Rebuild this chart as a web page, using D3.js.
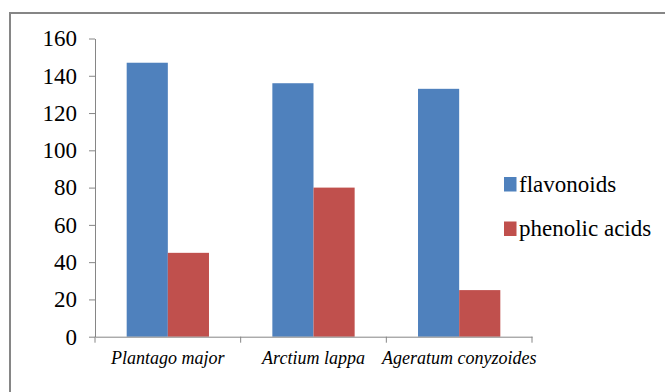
<!DOCTYPE html>
<html><head><meta charset="utf-8">
<script src="https://cdn.jsdelivr.net/npm/d3@7"></script>
<style>
body{margin:0;background:#fff;}
#chart text{font-family:"Liberation Serif","Tinos","Times New Roman",serif;}
</style>
</head><body>
<svg id="chart" width="665" height="392" font-family="Liberation Serif"></svg>
<script>
const categories = ["Plantago major", "Arctium lappa", "Ageratum conyzoides"];
const seriesNames = ["flavonoids", "phenolic acids"];
const flavonoids = [147, 136, 133];
const phenolicAcids = [45, 80, 25];
const yTicks = [0, 20, 40, 60, 80, 100, 120, 140, 160];
const colors = ["#4F81BD", "#C0504D"];

const svg = d3.select("#chart");
svg.append("rect").attr("x", 10).attr("y", 13).attr("width", 700).attr("height", 420)
  .attr("fill", "#fff").attr("stroke", "#868686").attr("stroke-width", 2);

const x0 = d3.scaleBand().domain(categories).range([95, 532]).padding(0);
const x1 = d3.scaleBand().domain(seriesNames).range([0, x0.bandwidth()]).paddingOuter(0.77).paddingInner(0);
const y = d3.scaleLinear().domain([0, 160]).range([336.7, 38.5]);

const data = categories.map((c, i) => ({cat: c, vals: [flavonoids[i], phenolicAcids[i]]}));

svg.append("g").selectAll("g.grp").data(data).join("g").attr("class", "grp")
  .attr("transform", d => `translate(${x0(d.cat)},0)`)
  .selectAll("rect").data(d => d.vals.map((v, k) => ({s: seriesNames[k], v, k})))
  .join("rect")
  .attr("x", d => x1(d.s)).attr("width", x1.bandwidth())
  .attr("y", d => y(d.v)).attr("height", d => y(0) - y(d.v))
  .attr("fill", d => colors[d.k]);

// y axis
const yAxis = svg.append("g").attr("transform", "translate(95,0)")
  .call(d3.axisLeft(y).tickValues(yTicks).tickSize(6).tickSizeOuter(0).tickPadding(12));
yAxis.attr("font-family", null).attr("font-size", 23);
yAxis.selectAll("path, line").attr("stroke", "#868686");
yAxis.selectAll("text").attr("fill", "#000");

// x axis
const xAxis = svg.append("g").attr("transform", `translate(0,${y(0)})`)
  .call(d3.axisBottom(x0).tickSize(0).tickSizeOuter(0));
xAxis.attr("font-family", null).attr("font-size", 18).attr("font-style", "italic");
xAxis.select("path").attr("stroke", "#868686");
xAxis.selectAll(".tick text").attr("fill", "#000").attr("dy", "1.35em");
// category boundary ticks
const bounds = [95].concat(categories.map(c => x0(c) + x0.bandwidth()));
svg.append("g").selectAll("line").data(bounds).join("line")
  .attr("x1", d => d).attr("x2", d => d).attr("y1", y(0)).attr("y2", y(0) + 6)
  .attr("stroke", "#868686");

// legend
const leg = svg.append("g").attr("font-size", 23).selectAll("g").data(seriesNames).join("g")
  .attr("transform", (d, i) => `translate(504,${177 + i * 44.5})`);
leg.append("rect").attr("width", 12.5).attr("height", 14.5).attr("fill", (d, i) => colors[i]);
leg.append("text").attr("x", 15).attr("y", 14.5).attr("fill", "#000").text(d => d);
</script>
</body></html>
